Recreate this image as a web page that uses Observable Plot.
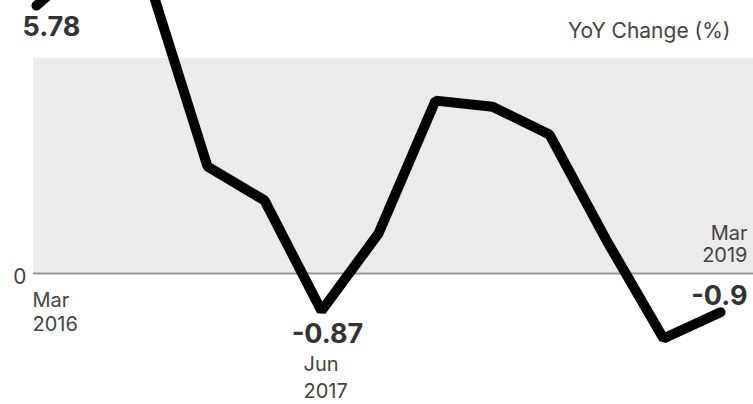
<!DOCTYPE html>
<html>
<head>
<meta charset="utf-8">
<script src="https://cdn.jsdelivr.net/npm/d3@7"></script>
<script src="https://cdn.jsdelivr.net/npm/@observablehq/plot@0.6"></script>
<style>
  html, body { margin: 0; padding: 0; background: #fff; }
  #chart svg { display: block; }
</style>
</head>
<body>
<div id="chart"></div>
<script>
// Quarter labels and YoY change (%) values
const quarters = ["Mar 2016","Jun 2016","Sep 2016","Dec 2016","Mar 2017","Jun 2017","Sep 2017","Dec 2017","Mar 2018","Jun 2018","Sep 2018","Dec 2018","Mar 2019"];
const yoy = [6.23, 7.4, 6.7, 2.49, 1.70, -0.87, 0.93, 4.02, 3.88, 3.23, 0.77, -1.51, -0.9];

// Shaded band (0 to 5)
const bandLow = 0;
const bandHigh = 5;

// Value labels (bold) and date labels
const valueLabelQuarters = ["Mar 2016", "Jun 2017", "Mar 2019"];
const valueLabelTexts = ["5.78", "-0.87", "-0.9"];
const dateLabelTexts = ["Mar\n2016", "Jun\n2017", "Mar\n2019"];
const unitTitle = "YoY Change (%)";

const data = quarters.map((q, i) => ({q, v: yoy[i]}));
const valueOf = q => yoy[quarters.indexOf(q)];

const font = "Inter, Roboto, 'Noto Sans', sans-serif";

const chart = Plot.plot({
  width: 753,
  height: 404,
  marginLeft: 36,
  marginRight: 33,
  marginTop: 58,
  marginBottom: 45,
  style: {fontFamily: font, fontSize: "20px", color: "#444", background: "#fff"},
  x: {type: "point", domain: quarters, padding: 0, axis: null},
  y: {domain: [-2, 5], axis: null},
  marks: [
    Plot.rect([{y1: bandLow, y2: bandHigh}], {y1: "y1", y2: "y2", fill: "#ebebeb", insetLeft: -3, insetRight: -33}),
    Plot.ruleY([0], {stroke: "#9a9a9a", strokeWidth: 2, insetLeft: -3, insetRight: -33}),
    Plot.axisY({ticks: [0], tickSize: 0, tickPadding: 10, fontSize: 21, fill: "#444", dy: 4, tickFormat: d => String(d)}),
    Plot.line(data, {x: "q", y: "v", stroke: "#000", strokeWidth: 10, strokeLinejoin: "miter", strokeLinecap: "round"}),
    // unit title
    Plot.text([unitTitle], {frameAnchor: "top-right", text: d => d, textAnchor: "end", lineAnchor: "top", dx: 10, dy: -35, fontSize: 21, fill: "#444"}),
    // Mar 2016
    Plot.text([valueLabelTexts[0]], {x: () => valueLabelQuarters[0], y: () => valueOf(valueLabelQuarters[0]), text: d => d, textAnchor: "start", lineAnchor: "top", dx: -14, dy: 11, fontSize: 27, fontWeight: "bold", fill: "#333"}),
    Plot.text([dateLabelTexts[0]], {x: () => valueLabelQuarters[0], y: () => 0, text: d => d, textAnchor: "start", lineAnchor: "top", lineHeight: 1.2, dx: -4, dy: 16, fontSize: 20, fill: "#444"}),
    // Jun 2017
    Plot.text([valueLabelTexts[1]], {x: () => valueLabelQuarters[1], y: () => valueOf(valueLabelQuarters[1]), text: d => d, textAnchor: "middle", lineAnchor: "top", dx: 6, dy: 13, fontSize: 27, fontWeight: "bold", fill: "#333"}),
    Plot.text([dateLabelTexts[1]], {x: () => valueLabelQuarters[1], y: () => valueOf(valueLabelQuarters[1]), text: d => d, textAnchor: "start", lineAnchor: "top", lineHeight: 1.35, dx: -18, dy: 41, fontSize: 20, fill: "#444"}),
    // Mar 2019
    Plot.text([valueLabelTexts[2]], {x: () => valueLabelQuarters[2], y: () => valueOf(valueLabelQuarters[2]), text: d => d, textAnchor: "end", lineAnchor: "top", dx: 27, dy: -26, fontSize: 27, fontWeight: "bold", fill: "#333"}),
    Plot.text([dateLabelTexts[2]], {x: () => valueLabelQuarters[2], y: () => 0, text: d => d, textAnchor: "end", lineAnchor: "top", lineHeight: 1.1, dx: 27, dy: -49, fontSize: 20, fill: "#444"})
  ]
});
document.getElementById("chart").appendChild(chart);
</script>
</body>
</html>
